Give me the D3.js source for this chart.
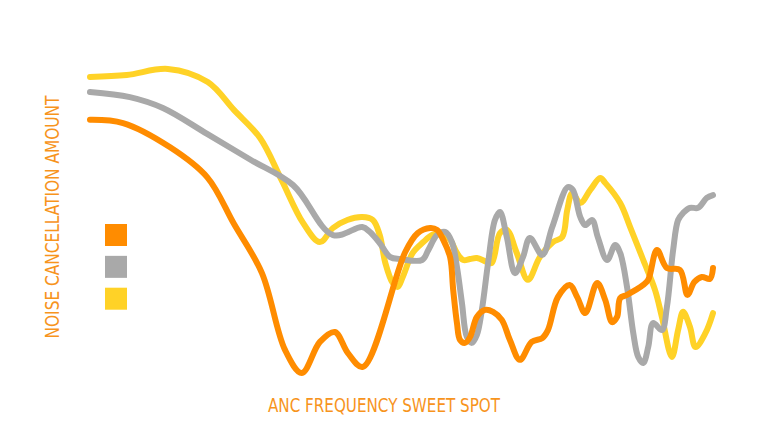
<!DOCTYPE html>
<html><head><meta charset="utf-8">
<script src="https://cdn.jsdelivr.net/npm/d3@7"></script>
<style>html,body{margin:0;padding:0;background:#fff;}svg{display:block;}</style>
</head><body>
<svg id="chart" width="768" height="432"></svg>
<script>
// Series (x = frequency position 0-100, y = noise cancellation amount 0-100)
const orangeX = [0,5.3,12.8,18.8,23.1,27.6,31.3,34.0,36.9,39.3,41.4,43.8,50.6,52.6,54.6,55.7,56.7,57.8,58.3,58.9,59.4,60.2,61.0,62.1,63.4,64.7,66.1,67.4,69.0,70.9,72.6,73.5,75.1,77.0,78.2,79.5,81.4,82.7,83.8,84.6,85.1,86.2,88.8,89.6,91.0,92.6,94.7,95.9,97.0,98.2,99.5,100];
const orangeY = [81.3,80.3,72.8,63.4,48.8,33.4,9.4,2.2,11.9,15.0,8.4,4.1,40.0,45.9,47.5,46.9,43.8,38.4,28.1,17.8,12.5,11.6,13.4,19.7,21.9,21.3,18.8,12.5,6.3,11.9,13.1,15.6,25.9,29.7,25.9,20.9,30.3,25.0,18.1,19.7,25.6,26.6,29.7,31.3,40.6,35.0,34.4,26.6,30.6,32.2,31.6,35.0];

const grayX = [0,6.4,11.7,18.8,25.7,32.6,39.0,43.7,44.9,46.5,48.2,49.8,53.3,54.3,55.7,57.0,58.1,58.9,59.7,60.5,61.3,62.1,62.9,63.9,65.0,65.8,66.9,68.2,69.5,70.6,72.6,74.2,76.7,77.5,78.7,79.5,80.6,81.5,83.0,84.3,85.1,86.2,87.2,88.0,88.8,89.6,90.4,91.8,92.6,93.6,94.4,95.2,96.3,97.6,99.0,100];
const grayY = [90.0,88.4,85.0,76.9,68.9,60.9,45.3,47.8,46.3,42.8,38.4,37.8,37.5,40.6,45.3,46.3,43.1,35.3,24.1,13.4,11.6,14.1,21.9,36.6,50.0,52.5,44.7,33.4,38.4,44.4,39.1,47.8,60.3,59.4,50.9,48.4,50.0,44.7,37.5,42.2,39.7,29.1,14.7,7.2,5.3,10.3,17.8,15.6,22.8,40.6,50.0,52.2,53.8,53.8,56.9,57.8];

const yellowX = [0,5.9,12.5,18.9,23.1,27.3,30.7,34.2,36.9,39.0,41.3,43.7,45.4,46.5,47.4,48.6,49.4,50.2,51.8,53.5,54.9,56.5,57.8,58.9,59.9,61.0,62.1,63.7,64.5,65.8,66.9,68.5,70.3,72.2,74.3,75.8,76.6,77.4,78.7,80.3,81.9,82.7,85.1,86.7,88.8,90.7,91.8,93.4,94.4,95.2,96.3,97.2,98.8,100];
const yellowY = [94.7,95.3,97.2,93.1,84.4,75.6,62.7,49.1,43.1,47.5,50.0,50.9,50.0,45.3,36.6,30.3,29.1,32.2,39.7,43.1,45.3,45.9,43.8,39.7,37.5,37.8,38.1,36.9,36.6,45.9,46.9,39.7,31.3,38.4,43.1,44.7,53.1,58.4,55.3,59.4,63.1,61.6,55.3,47.8,37.5,28.1,19.7,7.2,15.6,21.3,16.6,10.3,14.7,20.9];

const seriesNames = ["Orange", "Gray", "Yellow"];
const seriesColors = ["#FF8C00", "#A9A9A9", "#FFD227"];
const xLabel = "ANC FREQUENCY SWEET SPOT";
const yLabel = "NOISE CANCELLATION AMOUNT";

const series = [
  {name: seriesNames[0], color: seriesColors[0], pts: orangeX.map((x,i)=>[x, orangeY[i]])},
  {name: seriesNames[1], color: seriesColors[1], pts: grayX.map((x,i)=>[x, grayY[i]])},
  {name: seriesNames[2], color: seriesColors[2], pts: yellowX.map((x,i)=>[x, yellowY[i]])}
];

const svg = d3.select("#chart");
const x = d3.scaleLinear().domain([0,100]).range([90,713]);
const y = d3.scaleLinear().domain([0,100]).range([380,60]);

const line = d3.line().x(d=>x(d[0])).y(d=>y(d[1])).curve(d3.curveCatmullRom.alpha(0.5));

const drawOrder = [2,1,0];
svg.append("g").selectAll("path").data(drawOrder.map(i=>series[i])).join("path")
  .attr("d", d=>line(d.pts))
  .attr("fill","none")
  .attr("stroke", d=>d.color)
  .attr("stroke-width", 6)
  .attr("stroke-linejoin","round")
  .attr("stroke-linecap","round");

// legend squares
const leg = d3.scaleBand().domain(seriesNames).range([224,310]).paddingInner(0.3);
svg.append("g").selectAll("rect").data(series).join("rect")
  .attr("x",105).attr("y",d=>leg(d.name))
  .attr("width",22).attr("height",22)
  .attr("fill",d=>d.color);

const labelFont = "'Liberation Sans Narrow','DejaVu Sans Condensed','Roboto Condensed',sans-serif";
svg.append("text")
  .attr("x",384).attr("y",412)
  .attr("text-anchor","middle")
  .attr("font-family",labelFont)
  .attr("font-size",19)
  .attr("fill","#F7941D")
  .attr("textLength",232).attr("lengthAdjust","spacingAndGlyphs")
  .text(xLabel);

svg.append("text")
  .attr("transform","translate(59,217) rotate(-90)")
  .attr("text-anchor","middle")
  .attr("font-family",labelFont)
  .attr("font-size",19)
  .attr("fill","#F7941D")
  .attr("textLength",243).attr("lengthAdjust","spacingAndGlyphs")
  .text(yLabel);
</script>
</body></html>
